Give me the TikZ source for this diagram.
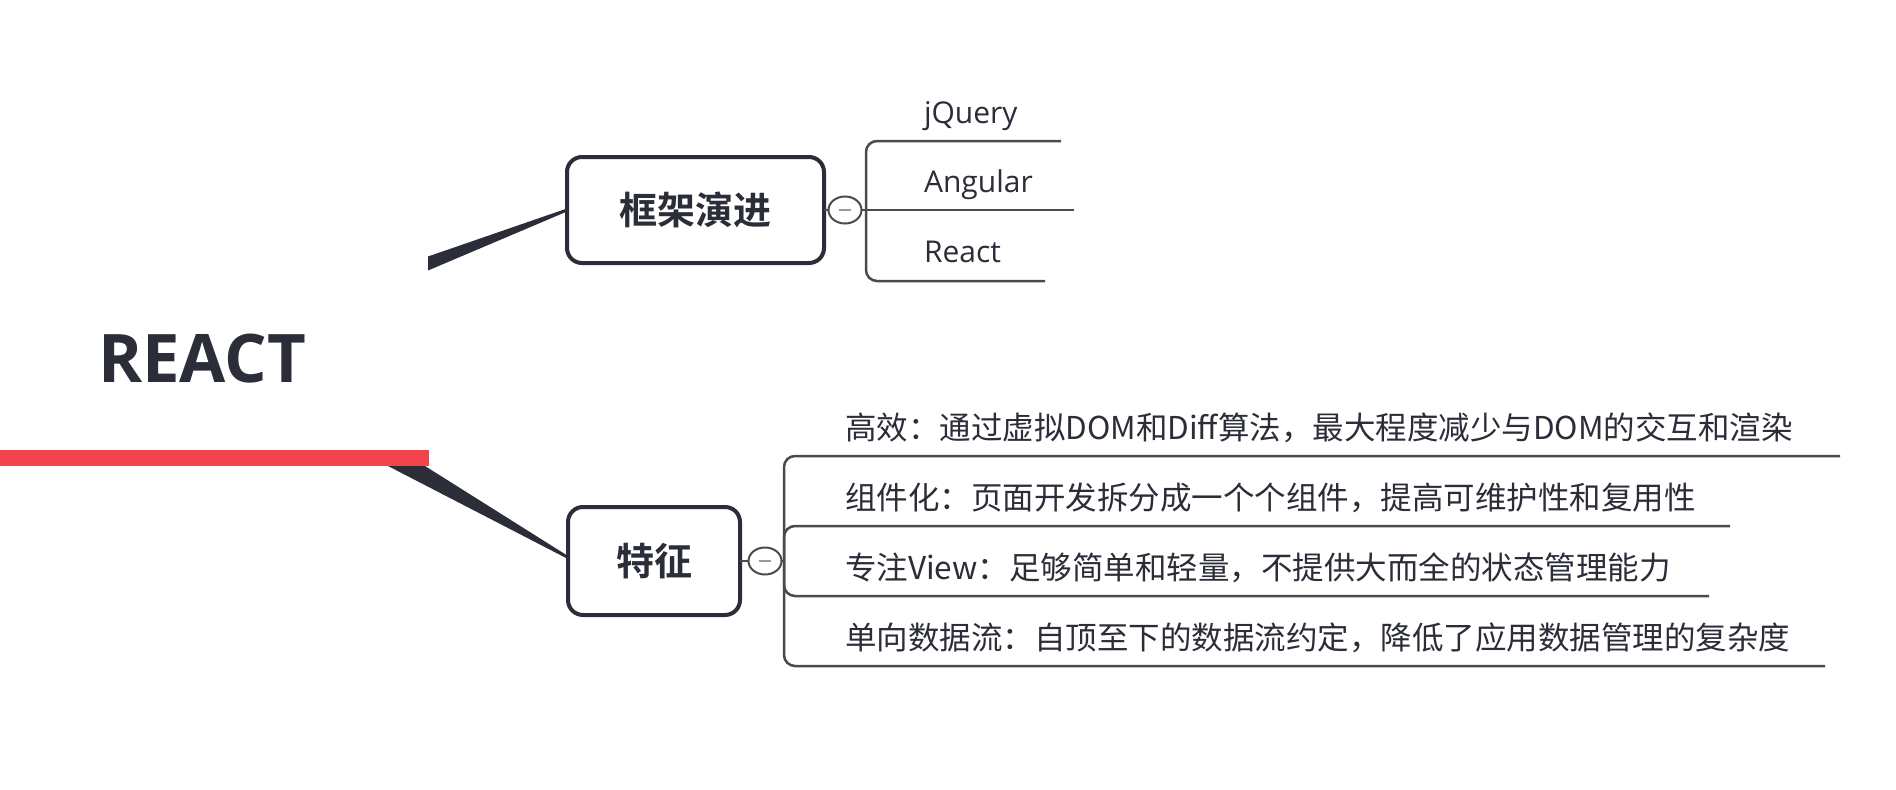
\documentclass[tikz,border=0pt]{standalone}
\usepackage{fontspec}
\setmainfont{Open Sans}
\newfontfamily\cjk[BoldFont={Noto Sans CJK SC Bold}]{Noto Sans CJK SC}
\usetikzlibrary{shapes.geometric,calc}
\definecolor{ink}{HTML}{2B2D38}
\definecolor{redbar}{HTML}{F2434B}
\definecolor{linec}{HTML}{4A4A4A}
\definecolor{minusc}{HTML}{9A9A9A}
\begin{document}
\begin{tikzpicture}[x=1pt,y=-1pt,
  every node/.style={inner sep=0pt, outer sep=0pt},
  topic/.style={draw=ink, line width=4pt, rounded corners=15pt, fill=white,
    font=\cjk\bfseries\fontsize{38}{44}\selectfont, text=ink},
  rowtext/.style={font=\cjk\fontsize{31.5}{38}\selectfont, text=ink, anchor=base west},
  lbl/.style={font=\fontsize{30}{36}\selectfont, text=ink, anchor=base west},
  branch/.style={draw=linec, line width=2.5pt, rounded corners=11pt},
  toggle/.style={draw=linec, line width=2pt, ellipse, minimum width=33pt, minimum height=27pt, fill=white},
  minusmark/.style={draw=minusc, line width=1.5pt}
]
\useasboundingbox[fill=white] (0,0) rectangle (1896,790);

% root
\node[font=\bfseries\fontsize{67}{80}\selectfont, text=ink, anchor=base west] (root) at (98,382) {REACT};
\node[fill=redbar, minimum width=429pt, minimum height=16pt, anchor=north west] (bar) at (0,450) {};

% topics
\node[topic, minimum width=257pt, minimum height=106pt] (t1) at (695.5,210) {框架演进};
\node[topic, minimum width=172pt, minimum height=108pt] (t2) at (654,561) {特征};

% tapered connectors
\coordinate (up) at (428,263.5);
\fill[ink] ($(up)+(0,-7)$) -- ($(t1.west)+(0,-1.5)$) -- ($(t1.west)+(0,1.5)$) -- ($(up)+(0,7)$) -- cycle;
\fill[ink] ($(bar.south east)+(-41,0)$) -- ($(bar.south east)+(-4,0)$) -- ($(t2.west)+(0,-5)$) -- ($(t2.west)+(0,-2)$) -- cycle;

% toggles
\node[toggle] (c1) at (845,210) {};
\draw[minusmark] ($(c1.center)+(-6,0)$) -- ($(c1.center)+(6,0)$);
\node[toggle] (c2) at (765,561) {};
\draw[minusmark] ($(c2.center)+(-6,0)$) -- ($(c2.center)+(6,0)$);
\draw[linec, line width=2.5pt] (t1.east) -- (c1.west);
\draw[linec, line width=2.5pt] (t2.east) -- (c2.west);

% upper branch
\coordinate (h1) at (866,210);
\coordinate (jqR) at (1061,141);
\coordinate (anR) at (1074,210);
\coordinate (reR) at (1045,281);
\draw[linec, line width=2.5pt] (c1.east) -- (h1);
\draw[branch] (h1) |- (jqR);
\draw[branch] (h1) -- (anR);
\draw[branch] (h1) |- (reR);
\node[lbl] (jq) at (924,123) {jQuery};
\node[lbl] (an) at (924,192) {Angular};
\node[lbl] (re) at (924,262) {React};

% lower branch
\coordinate (h2) at (784,561);
\coordinate (r1R) at (1840,456);
\coordinate (r2R) at (1730,526);
\coordinate (r3R) at (1709,596);
\coordinate (r4R) at (1825,666);
\draw[linec, line width=2.5pt] (c2.east) -- (h2);
\draw[branch] (h2) |- (r1R);
\draw[branch] (h2) |- (r2R);
\draw[branch] (h2) |- (r3R);
\draw[branch] (h2) |- (r4R);
\node[rowtext] (f1) at (845,439) {高效：通过虚拟DOM和Diff算法，最大程度减少与DOM的交互和渲染};
\node[rowtext] (f2) at (845,509) {组件化：页面开发拆分成一个个组件，提高可维护性和复用性};
\node[rowtext] (f3) at (845,579) {专注View：足够简单和轻量，不提供大而全的状态管理能力};
\node[rowtext] (f4) at (845,649) {单向数据流：自顶至下的数据流约定，降低了应用数据管理的复杂度};
\end{tikzpicture}
\end{document}
